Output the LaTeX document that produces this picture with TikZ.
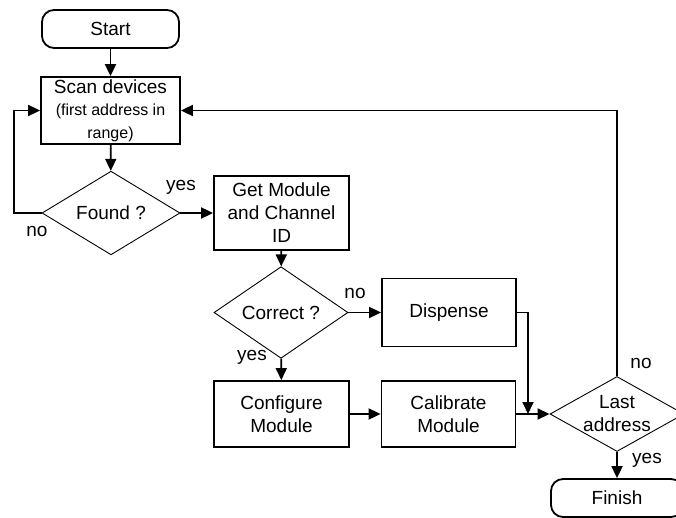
\documentclass[tikz,border=0pt]{standalone}
\usepackage{fontspec}
\setmainfont{Liberation Sans}
\usetikzlibrary{shapes.geometric,arrows.meta,positioning}

\newcommand{\notesize}{\fontsize{16}{20}\selectfont}

\tikzset{basic/.style={draw,line width=1.8pt,align=center,inner sep=0pt,font=\fontsize{19}{23}\selectfont}}
\tikzset{process/.style={basic,rectangle,minimum width=135pt,minimum height=67pt}}
\tikzset{terminal/.style={basic,rectangle,rounded corners=12pt,minimum width=137pt,minimum height=38pt}}
\tikzset{decision/.style={basic,diamond,line width=0.9pt,minimum width=136pt,minimum height=76pt}}
\tikzset{answer/.style={font=\fontsize{19}{23}\selectfont,inner sep=0pt}}
\tikzset{flow/.style={draw,line width=1.8pt,-{Triangle[length=12pt,width=11pt]}}}

\begin{document}
\begin{tikzpicture}[x=1pt,y=-1pt]
	\useasboundingbox (0,0) rectangle (676,518);
	\clip (0,0) rectangle (676,518);

	\node[terminal] (start) at (110.5,29) {Start};
	\node[process,minimum width=139pt] (scan) at (110.5,110.5) {Scan devices\\[-1pt]\notesize (first address in\\\notesize range)};
	\node[decision,minimum width=138pt,minimum height=77pt] (found) at (111,213) {Found ?};
	\node[process,minimum height=74pt] (getid) at (281.5,213) {Get Module\\and Channel\\ID};
	\node[decision,minimum width=134pt,minimum height=75pt] (correct) at (281,312.5) {Correct ?};
	\node[process,minimum width=134pt,minimum height=68pt] (dispense) at (449,312.5) {Dispense};
	\node[process,minimum height=66pt] (configure) at (281.5,414) {Configure\\Module};
	\node[process,minimum width=134pt,minimum height=66pt] (calibrate) at (448.5,414) {Calibrate\\Module};
	\node[decision,minimum width=134pt,minimum height=75pt,
	      label={[answer,align=center]center:Last\\address}] (last) at (617,414) {};
	\node[terminal,minimum width=132pt] (finish) at (617,498) {Finish};

	% answers
	\node[answer] (foundyes) at (181,187) {yes};
	\node[answer] (foundno) at (37,231) {no};
	\node[answer] (correctno) at (355,293) {no};
	\node[answer] (correctyes) at (252,357) {yes};
	\node[answer] (lastno) at (641,363) {no};
	\node[answer] (lastyes) at (647,460) {yes};

	\coordinate (loopback) at (14,213);
	\coordinate (join) at (528,414);

	\path[flow] (start) -- (scan);
	\path[flow] (scan) -- (found);
	\path[flow] (found.west) -- (loopback) |- (scan.west);
	\path[flow] (found) -- (getid);
	\path[flow] (getid) -- (correct);
	\path[flow] (correct) -- (dispense);
	\path[flow] (correct) -- (configure);
	\path[flow] (configure) -- (calibrate);
	\path[flow] (calibrate) -- (last);
	\path[flow] (dispense.east) -| (join);
	\path[flow] (last.north) |- (scan.east);
	\path[flow] (last) -- (finish);

\end{tikzpicture}
\end{document}
